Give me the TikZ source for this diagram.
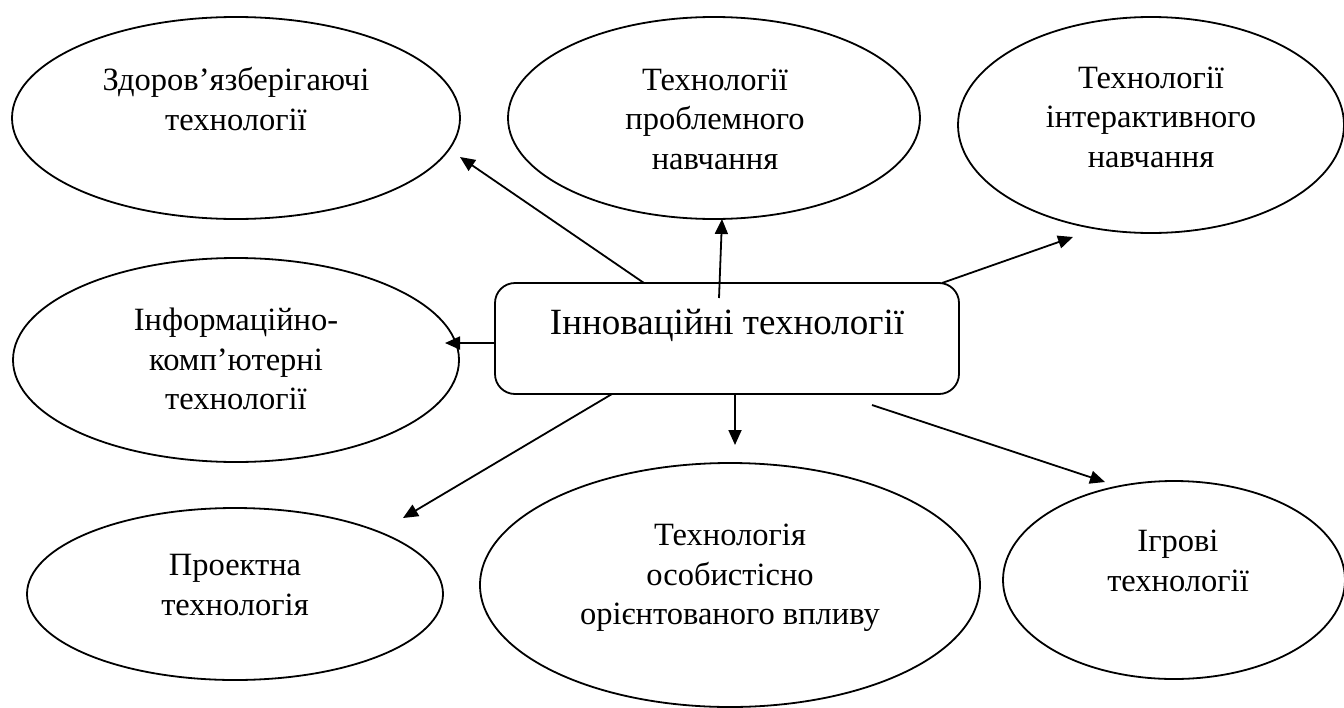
\documentclass[tikz,border=0pt]{standalone}
\usepackage{fontspec}
\setmainfont{Liberation Serif}
\usetikzlibrary{arrows.meta,shapes.geometric}
\begin{document}
\begin{tikzpicture}[x=1pt,y=-1pt,
  ell/.style={draw=black, line width=1.8pt, ellipse, inner sep=0pt},
  lbl/.style={align=center, inner sep=0pt, font=\fontsize{32.5}{39.5}\selectfont},
  hub/.style={draw=black, line width=1.8pt, rounded corners=20pt, inner sep=0pt},
  conn/.style={line width=1.8pt, -{Triangle[length=15pt,width=13pt]}}]
\useasboundingbox (0,0) rectangle (1344,707);
% ellipses
\node[ell, minimum width=448, minimum height=202] (e1) at (236,118) {};
\node[ell, minimum width=412, minimum height=202] (e2) at (714,118) {};
\node[ell, minimum width=386, minimum height=216] (e3) at (1151,125) {};
\node[ell, minimum width=446, minimum height=204] (e4) at (236,360) {};
\node[ell, minimum width=416, minimum height=172] (e5) at (235,594) {};
\node[ell, minimum width=500, minimum height=244] (e6) at (730,585) {};
\node[ell, minimum width=342, minimum height=198] (e7) at (1174,580) {};
% texts
\node[lbl] (t1) at (236,99) {Здоров’язберігаючі\\технології};
\node[lbl] (t2) at (715,119) {Технології\\проблемного\\навчання};
\node[lbl] (t3) at (1151,117) {Технології\\інтерактивного\\навчання};
\node[lbl] (t4) at (236,359) {Інформаційно-\\комп’ютерні\\технології};
\node[lbl] (t5) at (235,585) {Проектна\\технологія};
\node[lbl] (t6) at (730,578) {Технологія\\особистісно\\орієнтованого впливу};
\node[lbl] (t7) at (1178,561) {Ігрові\\технології};
% central box
\node[hub, minimum width=464, minimum height=111] (hub) at (727,338.5) {};
\node[inner sep=0pt, font=\fontsize{37}{44}\selectfont] (ht) at (727,325) {Інноваційні технології};
% connector ends
\coordinate (s1) at (644,283);  \coordinate (p1) at (460,157);
\coordinate (s2) at (719,298);  \coordinate (p2) at (722,219);
\coordinate (s3) at (942,283);  \coordinate (p3) at (1073,237);
\coordinate (s4) at (495,343);  \coordinate (p4) at (445,343);
\coordinate (s5) at (612,394);  \coordinate (p5) at (403,518);
\coordinate (s6) at (735,394);  \coordinate (p6) at (735,445);
\coordinate (s7) at (872,405);  \coordinate (p7) at (1105,482);
\draw[conn] (s1) -- (p1);
\draw[conn] (s2) -- (p2);
\draw[conn] (s3) -- (p3);
\draw[conn] (s4) -- (p4);
\draw[conn] (s5) -- (p5);
\draw[conn] (s6) -- (p6);
\draw[conn] (s7) -- (p7);
\end{tikzpicture}
\end{document}
